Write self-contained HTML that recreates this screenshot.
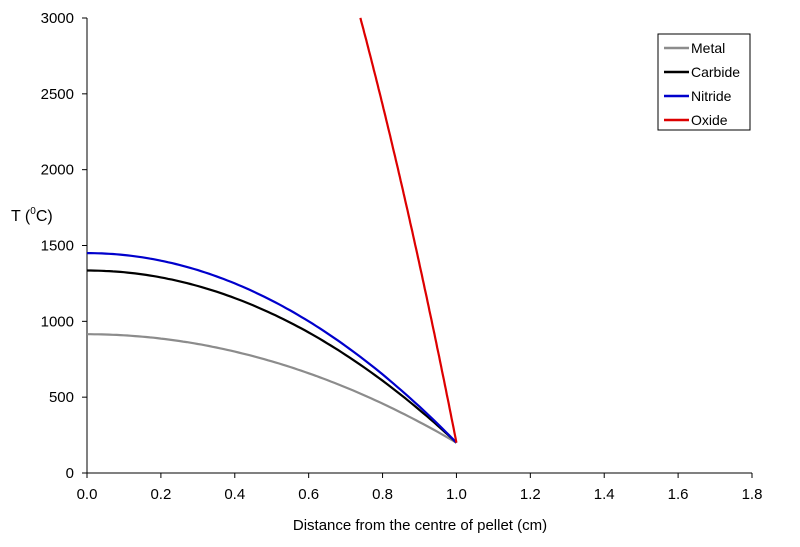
<!DOCTYPE html>
<html><head><meta charset="utf-8"><style>
body{margin:0;background:#fff}
svg{display:block;font-family:"Liberation Sans",Arial,sans-serif}
</style></head><body>
<svg id="s" width="800" height="547" viewBox="0 0 800 547">
<rect width="800" height="547" fill="#fff"/>
<line x1="87" y1="18" x2="87" y2="473" stroke="#000" stroke-width="1"/>
<line x1="87" y1="473" x2="752" y2="473" stroke="#000" stroke-width="1"/>
<g id="ticks" font-size="15" fill="#000"></g>
<text x="11" y="221" font-size="16">T (<tspan font-size="10" dy="-7">0</tspan><tspan dy="7">C)</tspan></text>
<text x="420" y="530" font-size="15" text-anchor="middle">Distance from the centre of pellet (cm)</text>
<g id="curves" fill="none" stroke-width="2.2"></g>
<rect x="658" y="34" width="92" height="96" fill="#fff" stroke="#000" stroke-width="1"/>
<g font-size="14">
<line x1="664" y1="48" x2="689" y2="48" stroke="#8c8c8c" stroke-width="2.5"/><text x="691" y="53">Metal</text>
<line x1="664" y1="72" x2="689" y2="72" stroke="#000" stroke-width="2.5"/><text x="691" y="77">Carbide</text>
<line x1="664" y1="96" x2="689" y2="96" stroke="#0000cc" stroke-width="2.5"/><text x="691" y="101">Nitride</text>
<line x1="664" y1="120" x2="689" y2="120" stroke="#dd0000" stroke-width="2.5"/><text x="691" y="125">Oxide</text>
</g>
</svg>
<script>
function X(r){return 87+r*(665/1.8);}
function Y(t){return 473-t*(455/3000);}
var tk=document.getElementById("ticks"),h="";
for(var i=0;i<=9;i++){var r=i*0.2,x=X(r);h+='<line x1="'+x+'" y1="473" x2="'+x+'" y2="478" stroke="#000"/>';h+='<text x="'+x+'" y="499" text-anchor="middle">'+r.toFixed(1)+'</text>';}
for(var j=0;j<=6;j++){var t=j*500,y=Y(t);h+='<line x1="82" y1="'+y+'" x2="87" y2="'+y+'" stroke="#000"/>';h+='<text x="74" y="'+(y+5)+'" text-anchor="end">'+t+'</text>';}
tk.innerHTML=h;
var cs=[[915,"#8c8c8c",0],[1335,"#000",0],[1450,"#0000cc",0],[6390,"#dd0000",0.74]];
var g=document.getElementById("curves"),s="";
cs.forEach(function(c){var p=[];for(var k=0;k<=100;k++){var r=c[2]+(1-c[2])*k/100;var t=200+(c[0]-200)*(1-r*r);p.push(X(r).toFixed(1)+","+Y(t).toFixed(1));}
s+='<polyline points="'+p.join(" ")+'" stroke="'+c[1]+'"/>';});
g.innerHTML=s;
</script>
</body></html>
